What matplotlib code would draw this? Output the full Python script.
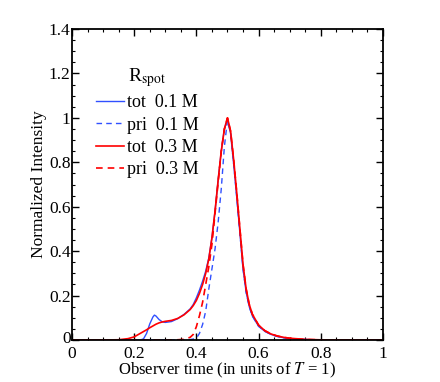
import numpy as np
import matplotlib.pyplot as plt
from matplotlib.ticker import MultipleLocator
from matplotlib.transforms import ScaledTranslation

plt.rcParams['font.family'] = ['Liberation Serif', 'DejaVu Serif']
plt.rcParams['mathtext.fontset'] = 'stix'

# observer time grid
t = [0.0, 0.10, 0.15, 0.18, 0.20, 0.22, 0.23, 0.24, 0.25, 0.26, 0.265, 0.27, 0.28,
     0.29, 0.30, 0.32, 0.34, 0.36, 0.38, 0.39, 0.40, 0.41, 0.42, 0.43, 0.44, 0.45,
     0.46, 0.47, 0.48, 0.49, 0.50, 0.51, 0.52, 0.53, 0.54, 0.55, 0.56, 0.57, 0.58,
     0.60, 0.62, 0.64, 0.66, 0.68, 0.70, 0.75, 0.80, 1.0]

# R_spot = 0.1 M, total
tot01 = [0, 0, 0, 0, 0, 0, 0.005, 0.03, 0.072, 0.103, 0.112, 0.108, 0.092,
         0.082, 0.079, 0.083, 0.096, 0.115, 0.14, 0.16, 0.19, 0.225, 0.265, 0.31, 0.37, 0.46,
         0.58, 0.72, 0.85, 0.95, 0.995, 0.93, 0.79, 0.64, 0.48, 0.32, 0.215, 0.15, 0.108,
         0.062, 0.039, 0.025, 0.016, 0.010, 0.006, 0.002, 0.0005, 0]
# R_spot = 0.1 M, primary only
pri01 = [0, 0, 0, 0, 0, 0, 0, 0, 0, 0, 0, 0, 0,
         0, 0, 0, 0, 0.001, 0.002, 0.004, 0.008, 0.03, 0.07, 0.13, 0.23, 0.32,
         0.41, 0.53, 0.68, 0.87, 0.99, 0.93, 0.79, 0.64, 0.48, 0.32, 0.215, 0.15, 0.108,
         0.062, 0.039, 0.025, 0.016, 0.010, 0.006, 0.002, 0.0005, 0]
# R_spot = 0.3 M, total
tot03 = [0, 0, 0.001, 0.006, 0.014, 0.03, 0.038, 0.046, 0.055, 0.063, 0.067, 0.071, 0.077,
         0.081, 0.084, 0.088, 0.097, 0.113, 0.137, 0.155, 0.178, 0.21, 0.25, 0.30, 0.365, 0.46,
         0.58, 0.72, 0.85, 0.95, 1.0, 0.94, 0.81, 0.66, 0.50, 0.34, 0.23, 0.16, 0.116,
         0.067, 0.042, 0.027, 0.018, 0.012, 0.008, 0.0025, 0.0007, 0]
# R_spot = 0.3 M, primary only
pri03 = [0, 0, 0, 0, 0, 0, 0, 0, 0, 0, 0, 0, 0,
         0, 0, 0, 0.001, 0.003, 0.012, 0.025, 0.06, 0.11, 0.17, 0.25, 0.33, 0.43,
         0.57, 0.71, 0.85, 0.95, 1.0, 0.94, 0.81, 0.66, 0.50, 0.34, 0.23, 0.16, 0.116,
         0.067, 0.042, 0.027, 0.018, 0.012, 0.008, 0.0025, 0.0007, 0]

xticks = [0, 0.2, 0.4, 0.6, 0.8, 1.0]
xticklabels = ['0', '0.2', '0.4', '0.6', '0.8', '1']
yticks = [0, 0.2, 0.4, 0.6, 0.8, 1.0, 1.2, 1.4]
yticklabels = ['0', '0.2', '0.4', '0.6', '0.8', '1', '1.2', '1.4']

blue = '#3050ff'
red = '#ff0000'

fig = plt.figure(figsize=(4.4, 3.82), dpi=100)
ax = fig.add_axes([0.1636, 0.110, 0.7068, 0.814])

ax.plot(t, tot01, color=blue, lw=1.0, label='tot  0.1 M')
ax.plot(t, pri01, color=blue, lw=1.0, ls=(0, (4, 3)), label='pri  0.1 M')
ax.plot(t, tot03, color=red, lw=1.2, label='tot  0.3 M')
ax.plot(t, pri03, color=red, lw=1.2, ls=(0, (4, 3)), label='pri  0.3 M')

ax.set_xlim(0, 1)
ax.set_ylim(0, 1.4)
ax.set_xticks(xticks)
ax.set_xticklabels(xticklabels)
ax.set_yticks(yticks)
ax.set_yticklabels(yticklabels)
ax.xaxis.set_minor_locator(MultipleLocator(0.05))
ax.yaxis.set_minor_locator(MultipleLocator(0.05))
ax.tick_params(which='both', direction='in', top=True, right=True, labelsize=12.5)
ax.tick_params(which='major', length=5, width=1)
ax.tick_params(which='minor', length=2.5, width=0.8)
ax.tick_params(axis='y', pad=1)
ax.tick_params(axis='x', pad=4.5)
for s in ax.spines.values():
    s.set_linewidth(1.3)

# nudge the y "0" up a little so it clears the x "0"
lab0 = ax.yaxis.get_major_ticks()[0].label1
lab0.set_transform(lab0.get_transform() + ScaledTranslation(0, 2.5 / 72, fig.dpi_scale_trans))

ax.set_xlabel('Observer time (in units of $T$ = 1)', fontsize=12, labelpad=-1)
ax.set_ylabel('Normalized Intensity', fontsize=12.5, labelpad=1)

leg = ax.legend(title='R$_{\\mathrm{spot}}$', loc='upper left', bbox_to_anchor=(0.055, 0.905),
                frameon=False, fontsize=13, title_fontsize=14, handlelength=1.55,
                handletextpad=0.15, labelspacing=0.3, borderaxespad=0)

fig.savefig('out.png', dpi=100)
